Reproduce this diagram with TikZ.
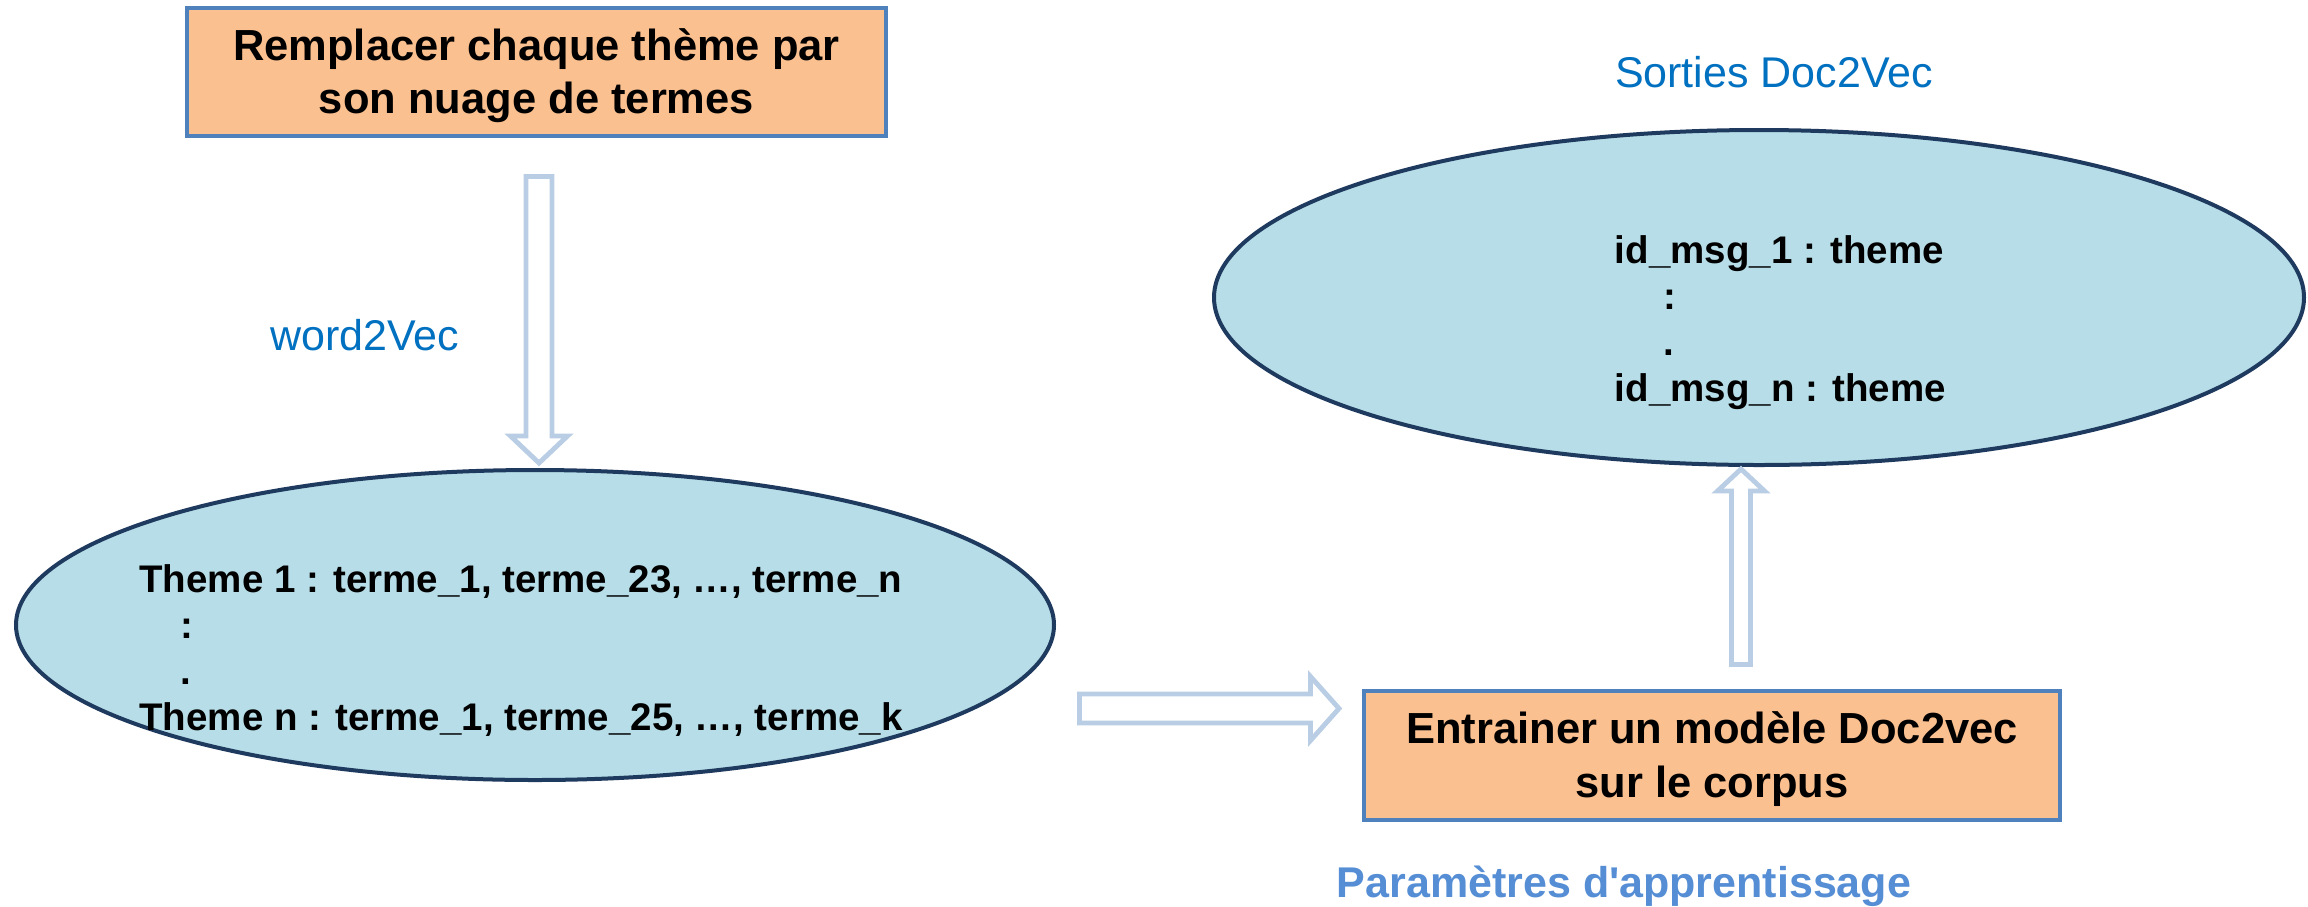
\documentclass[tikz,border=0pt]{standalone}
\usepackage{fontspec}
\setmainfont{Liberation Sans}
\usetikzlibrary{calc,shapes.geometric}

\definecolor{boxfill}{HTML}{FAC090}
\definecolor{boxline}{HTML}{4F81BD}
\definecolor{cloudfill}{HTML}{B7DEE8}
\definecolor{cloudline}{HTML}{1F3A5F}
\definecolor{arrowline}{HTML}{B9CDE5}
\definecolor{labelblue}{HTML}{0070C0}
\definecolor{parblue}{HTML}{558ED5}

\newcommand\stepfont{\fontsize{21.75pt}{26.75pt}\selectfont\bfseries}
\newcommand\cloudfont{\fontsize{19.25pt}{23pt}\selectfont\bfseries}
\newcommand\tagfont{\fontsize{21.5pt}{26pt}\selectfont}
% taller first line, so that the two lines sit a little lower in the box
\newcommand\firstline{\rule{0pt}{19.5pt}}

\tikzset{
  stepbox/.style={rectangle, draw=boxline, fill=boxfill, line width=2pt,
    inner sep=0pt, align=center, font=\stepfont},
  cloud/.style={ellipse, draw=cloudline, fill=cloudfill, line width=2pt, inner sep=0pt},
  cloudtext/.style={anchor=north west, inner sep=0pt, align=left, font=\cloudfont},
  tag/.style={anchor=base, inner sep=0pt, text=labelblue, font=\tagfont},
  % hollow block arrow: shaft half width, head half width, head length
  barrow/.style n args={3}{draw=arrowline, fill=white, line width=2.4pt,
    to path={let \p1=(\tikztostart), \p2=(\tikztotarget),
      \n1={veclen(\x2-\x1,\y2-\y1)},
      \n2={(\x2-\x1)/\n1}, \n3={(\y2-\y1)/\n1} in
      ({\x1-(\n3)*#1},{\y1+(\n2)*#1})
      -- ({\x2-(\n2)*#3-(\n3)*#1},{\y2-(\n3)*#3+(\n2)*#1})
      -- ({\x2-(\n2)*#3-(\n3)*#2},{\y2-(\n3)*#3+(\n2)*#2})
      -- (\p2)
      -- ({\x2-(\n2)*#3+(\n3)*#2},{\y2-(\n3)*#3-(\n2)*#2})
      -- ({\x2-(\n2)*#3+(\n3)*#1},{\y2-(\n3)*#3-(\n2)*#1})
      -- ({\x1+(\n3)*#1},{\y1-(\n2)*#1})
      -- cycle}}
}

\begin{document}
\begin{tikzpicture}[x=0.5pt,y=-0.5pt]
  \useasboundingbox (0,0) rectangle (2308,906);
  \fill[white] (0,0) rectangle (2308,906);

  % process steps
  \node[stepbox, minimum width=349.5pt, minimum height=64pt] (T) at (536.5,72)
    {\firstline Remplacer chaque thème par\\son nuage de termes};
  \node[stepbox, minimum width=348pt, minimum height=64.5pt] (E) at (1712,755.5)
    {\firstline Entrainer un modèle Doc2vec\\sur le corpus};

  % data clouds
  \node[cloud, minimum width=519pt, minimum height=155pt] (L) at (535,625) {};
  \node[cloud, minimum width=545pt, minimum height=167.5pt] (R) at (1759,297.5) {};

  \node[cloudtext] (Ltxt) at (139,564.5)
    {Theme 1 : terme\_1, terme\_23, …, terme\_n\\
     \hspace*{20.75pt}:\\
     \hspace*{20.75pt}.\\
     Theme n : terme\_1, terme\_25, …, terme\_k};
  \node[cloudtext] (Rtxt) at (1614.5,235.5)
    {id\_msg\_1 : theme\\
     \hspace*{24.5pt}:\\
     \hspace*{24.5pt}.\\
     id\_msg\_n : theme};

  % labels
  \node[tag] (w2v) at (364.5,350) {word2Vec};
  \node[tag] (sd) at (1774,87) {Sorties Doc2Vec};
  \node[tag, text=parblue, font=\tagfont\bfseries] (pa) at (1624,897.5)
    {Paramètres d\textquotesingle apprentissage};

  % arrow end points
  \coordinate (dtip) at ($(L.north)+(4,-5)$);
  \coordinate (dtop) at ($(dtip |- T.south)+(0,38.5)$);
  \coordinate (rs) at ($(L.east)+(23.5,83.5)$);
  \coordinate (re) at ($(rs -| E.west)+(-23,0)$);
  \coordinate (us) at ($(E.north)+(29,-24.5)$);
  \coordinate (ue) at ($(us |- R.south)+(0,2)$);

  % flow
  \draw[barrow={6.5pt}{14.25pt}{13.5pt}] (dtop) to (dtip);
  \draw[barrow={7.25pt}{16pt}{14.25pt}] (rs) to (re);
  \draw[barrow={4.75pt}{11.75pt}{11pt}] (us) to (ue);
\end{tikzpicture}
\end{document}
